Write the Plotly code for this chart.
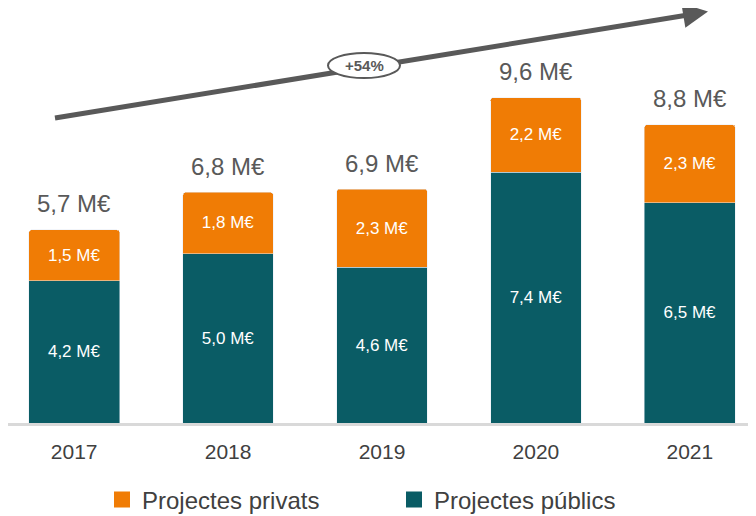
import plotly.graph_objects as go

years = ["2017", "2018", "2019", "2020", "2021"]
publics = [4.2, 5.0, 4.6, 7.4, 6.5]
privats = [1.5, 1.8, 2.3, 2.2, 2.3]
totals = [5.7, 6.8, 6.9, 9.6, 8.8]
growth_label = "+54%"

def fmt(v):
    return f"{v:.1f}".replace(".", ",") + " M€"

teal = "#0A5C65"
orange = "#F07C05"
grey = "#595959"
dark = "#404040"
font = "Liberation Sans, Arial, sans-serif"

# page body has an 8px margin: figure is drawn at (8, 8) in the screenshot
W, H = 748, 508
BASE = 415  # baseline y in figure pixels

fig = go.Figure()
fig.add_trace(go.Bar(
    x=years, y=publics, name="Projectes públics", marker_color=teal,
    text=[fmt(v) for v in publics], textposition="inside", insidetextanchor="middle",
    textfont=dict(color="white", size=17, family=font), width=0.59, showlegend=False,
))
fig.add_trace(go.Bar(
    x=years, y=privats, name="Projectes privats", marker_color=orange,
    text=[fmt(v) for v in privats], textposition="inside", insidetextanchor="middle",
    textfont=dict(color="white", size=17, family=font), width=0.59, showlegend=False,
))
# legend entries (square markers)
fig.add_trace(go.Scatter(x=[None], y=[None], mode="markers", name="Projectes privats",
                         marker=dict(symbol="square", size=16, color=orange)))
fig.add_trace(go.Scatter(x=[None], y=[None], mode="markers", name="Projectes públics",
                         marker=dict(symbol="square", size=16, color=teal)))

for i, t in enumerate(totals):
    fig.add_annotation(x=i, y=t, text=fmt(t), showarrow=False, yanchor="middle",
                       xanchor="center", yshift=26,
                       font=dict(size=24, color=grey, family=font))

def px(xs):
    return (xs - 8) / W
def py(ys):
    return (BASE + 8 - ys) / BASE

# growth arrow: line shape + arrowhead annotation
fig.add_shape(type="line", xref="paper", yref="paper",
              x0=px(55), y0=py(118), x1=px(694), y1=py(14),
              line=dict(color=grey, width=5), layer="above")
fig.add_shape(type="circle", xref="paper", yref="paper",
              x0=px(328), x1=px(400), y0=py(78), y1=py(53),
              fillcolor="white", line=dict(color=grey, width=2), layer="above")
fig.add_annotation(xref="paper", yref="paper", x=px(708), y=py(11.5),
                   axref="pixel", ayref="pixel", ax=-22, ay=3.6,
                   showarrow=True, arrowhead=2, arrowsize=1, arrowwidth=5,
                   arrowcolor=grey, text="")
fig.add_annotation(xref="paper", yref="paper", x=px(364), y=py(66),
                   xanchor="center", yanchor="middle",
                   text="<b>" + growth_label + "</b>", showarrow=False,
                   font=dict(size=15, color=grey, family=font))

fig.update_layout(
    barmode="stack", barcornerradius=3,
    width=W, height=H,
    margin=dict(l=0, r=0, t=0, b=H - BASE, autoexpand=False),
    plot_bgcolor="white", paper_bgcolor="white",
    showlegend=True,
    legend=dict(orientation="h", xref="container", yref="container",
                x=(102 - 8) / W, y=(H - (500 - 8)) / H, xanchor="left", yanchor="middle",
                traceorder="normal",
                font=dict(size=24, color=dark, family=font),
                entrywidth=247, entrywidthmode="pixels", itemwidth=30),
    xaxis=dict(type="category", range=[-0.43, 4.43], showline=True, linecolor="#D9D9D9",
               linewidth=3, ticks="", tickfont=dict(size=21, color=dark, family=font),
               ticklabelstandoff=8, automargin=False, fixedrange=True),
    yaxis=dict(range=[0, BASE / 33.9], visible=False, showgrid=False, fixedrange=True,
               automargin=False),
    uniformtext=dict(minsize=8, mode="show"),
)
fig.write_html("out.html")
